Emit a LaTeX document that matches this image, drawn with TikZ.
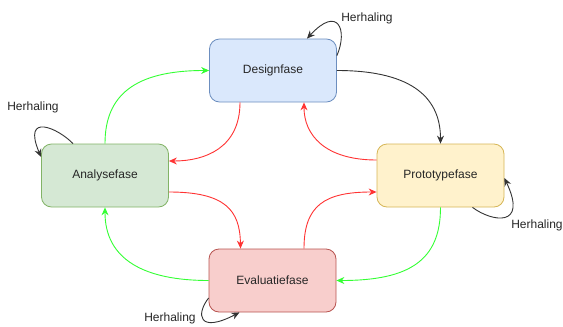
\documentclass[tikz,border=0pt]{standalone}
\usepackage{fontspec}
\setmainfont{Liberation Sans}
\usetikzlibrary{arrows.meta}
\definecolor{bfill}{HTML}{DAE8FC}\definecolor{bdraw}{HTML}{6C8EBF}
\definecolor{gfill}{HTML}{D5E8D4}\definecolor{gdraw}{HTML}{82B366}
\definecolor{yfill}{HTML}{FFF2CC}\definecolor{ydraw}{HTML}{D6B656}
\definecolor{rfill}{HTML}{F8CECC}\definecolor{rdraw}{HTML}{B85450}
\definecolor{garr}{HTML}{33FF33}\definecolor{rarr}{HTML}{FF3333}
\definecolor{karr}{HTML}{333333}
\begin{document}
\begin{tikzpicture}[x=1pt,y=-1pt,
  phase/.style={draw, rounded corners=10pt, minimum width=127pt, minimum height=63pt, line width=0.8pt, font=\fontsize{12}{14}\selectfont, text=black!85},
  lbl/.style={font=\fontsize{12}{14}\selectfont, text=black!85, inner sep=0pt},
  conn/.style={line width=0.9pt, -{Stealth[length=8pt,width=7pt]}},
  gconn/.style={conn, garr},
  rconn/.style={conn, rarr},
  kconn/.style={conn, karr}]
\useasboundingbox (0,0) rectangle (563,327);
\node[phase, fill=bfill, draw=bdraw] (d) at (273,70.5) {Designfase};
\node[phase, fill=gfill, draw=gdraw] (a) at (105,175.5) {Analysefase};
\node[phase, fill=yfill, draw=ydraw] (p) at (440.5,175.5) {Prototypefase};
\node[phase, fill=rfill, draw=rdraw] (e) at (272.5,280.5) {Evaluatiefase};
% main connectors
\draw[gconn] (a.north) .. controls (105,95) and (135,70.5) .. (d.west);
\draw[rconn] ([xshift=-33pt]d.south) .. controls (240,148) and (205,161) .. ([yshift=14.5pt]a.east);
\draw[rconn] ([yshift=15.5pt]p.west) .. controls (325,160) and (304,135) .. ([xshift=31pt]d.south);
\draw[kconn] (d.east) .. controls (415,70.5) and (440.5,100) .. (p.north);
\draw[rconn] ([yshift=-16.5pt]a.east) .. controls (225,192) and (240,210) .. ([xshift=-32pt]e.north);
\draw[rconn] ([xshift=31.5pt]e.north) .. controls (304,205) and (325,192) .. ([yshift=-16.5pt]p.west);
\draw[gconn] (p.south) .. controls (440.5,260) and (410,280.5) .. (e.east);
\draw[gconn] (e.west) .. controls (145,280.5) and (105,260) .. (a.south);
% self loops
\draw[kconn] ([yshift=-17pt]d.north east) .. controls (348,30) and (338,5) .. ([xshift=34pt]d.north);
\node[lbl] (hd) at (367,18) {Herhaling};
\draw[kconn] ([xshift=-32pt]a.north) .. controls (58,128) and (22,112) .. ([yshift=18.5pt]a.west);
\node[lbl] (ha) at (33,107) {Herhaling};
\draw[kconn] ([xshift=32pt]p.south) .. controls (492,222) and (528,228) .. ([yshift=-2.5pt]p.east);
\node[lbl] (hp) at (537,225) {Herhaling};
\draw[kconn] ([yshift=-17.5pt]e.west) .. controls (196,314) and (198,334) .. ([xshift=-33pt]e.south);
\node[lbl] (he) at (170,318) {Herhaling};
\end{tikzpicture}
\end{document}
